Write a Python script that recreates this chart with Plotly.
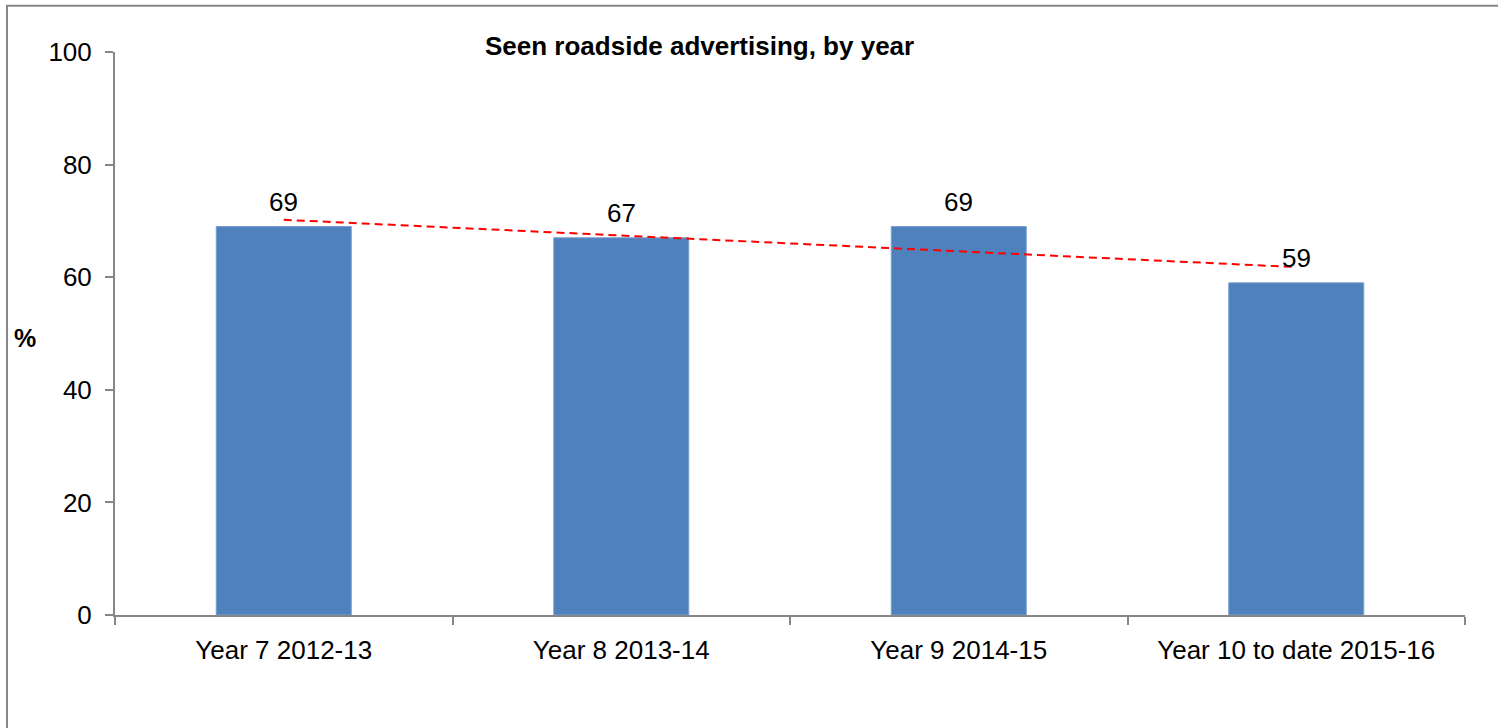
import numpy as np
import plotly.graph_objects as go

# Survey results: share who have seen roadside advertising, by survey year
categories = ["Year 7 2012-13", "Year 8 2013-14", "Year 9 2014-15", "Year 10 to date 2015-16"]
seen_pct = [69, 67, 69, 59]
y_ticks = [0, 20, 40, 60, 80, 100]

# Linear trend through the yearly values
idx = np.arange(1, len(seen_pct) + 1)
slope, intercept = np.polyfit(idx, seen_pct, 1)
trend = slope * idx + intercept

FONT = "Liberation Sans, Arial, sans-serif"
AXIS_GREY = "#868686"
FS = 26

fig = go.Figure()
fig.add_trace(go.Bar(
    x=categories,
    y=seen_pct,
    marker=dict(color="#4F81BD", line=dict(color="#7A9FD0", width=1)),
    showlegend=False,
))
fig.add_trace(go.Scatter(
    x=categories,
    y=trend,
    mode="lines",
    line=dict(color="#FF0000", width=2, dash="8px,5px"),
    showlegend=False,
    hoverinfo="skip",
))

# Value labels above each bar
annotations = [
    dict(x=c, y=v, xref="x", yref="y", text=str(v), showarrow=False,
         yanchor="middle", yshift=25, font=dict(family=FONT, size=FS, color="#000000"))
    for c, v in zip(categories, seen_pct)
]
annotations += [
    dict(text="<b>Seen roadside advertising, by year</b>", xref="paper", yref="paper",
         x=0.433, y=1.0107, xanchor="center", yanchor="middle", showarrow=False,
         font=dict(family=FONT, size=FS, color="#000000")),
    dict(text="<b>%</b>", xref="paper", yref="paper",
         x=-0.067, y=0.492, xanchor="center", yanchor="middle", showarrow=False,
         font=dict(family=FONT, size=25, color="#000000")),
]

fig.update_layout(
    width=1498,
    height=728,
    margin=dict(l=115, r=33, t=52, b=113),
    paper_bgcolor="white",
    plot_bgcolor="white",
    bargap=0.6,
    font=dict(family=FONT, size=FS, color="#000000"),
    xaxis=dict(
        type="category",
        showline=True,
        linecolor=AXIS_GREY,
        linewidth=2,
        ticks="outside",
        tickson="boundaries",
        ticklen=8,
        tickcolor=AXIS_GREY,
        tickwidth=2,
        showgrid=False,
        tickfont=dict(family=FONT, size=FS, color="#000000"),
        ticklabelstandoff=11,
    ),
    yaxis=dict(
        range=[0, 100],
        tickvals=y_ticks,
        showline=True,
        linecolor=AXIS_GREY,
        linewidth=2,
        ticks="outside",
        ticklen=8,
        tickcolor=AXIS_GREY,
        tickwidth=2,
        showgrid=False,
        zeroline=False,
        tickfont=dict(family=FONT, size=FS, color="#000000"),
        ticklabelstandoff=8,
    ),
    annotations=annotations,
    shapes=[
        dict(type="rect", xref="paper", yref="paper",
             x0=-0.08, x1=1.03, y0=-0.21, y1=1.0823,
             line=dict(color=AXIS_GREY, width=2), fillcolor="rgba(0,0,0,0)", layer="below"),
    ],
)

fig.write_html("out.html")
